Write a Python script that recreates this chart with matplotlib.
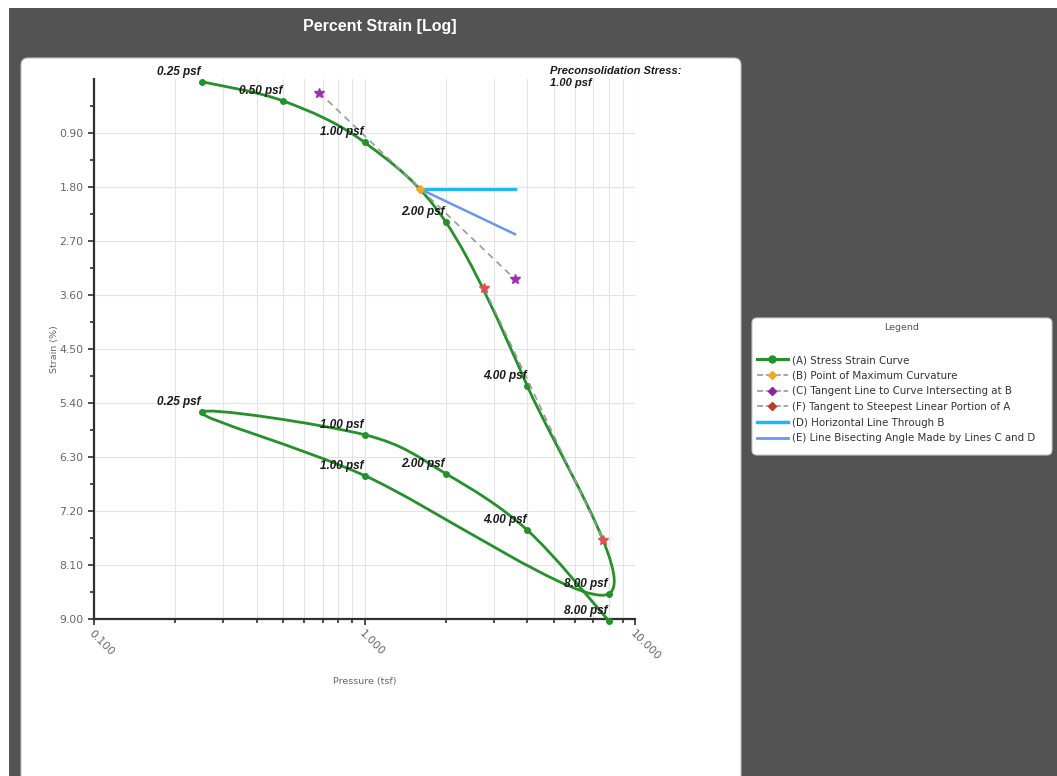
import numpy as np
import matplotlib.pyplot as plt
from matplotlib.patches import FancyBboxPatch, PathPatch, Rectangle
from matplotlib.path import Path
from matplotlib.lines import Line2D
from matplotlib.ticker import FixedLocator, LogLocator, NullFormatter

# (A) stress strain curve : loading -> unloading -> reloading
pressure = [0.25, 0.5, 1.0, 2.0, 4.0, 8.0, 1.0, 0.25, 1.0, 2.0, 4.0, 8.0]
strain = [0.05, 0.37, 1.06, 2.39, 5.12, 8.58, 6.61, 5.56, 5.93, 6.58, 7.52, 9.03]
point_labels = ['0.25 psf', '0.50 psf', '1.00 psf', '2.00 psf', '4.00 psf', '8.00 psf',
                '1.00 psf', '0.25 psf', '1.00 psf', '2.00 psf', '4.00 psf', '8.00 psf']

# (B) point of maximum curvature
b_pressure = [1.61]
b_strain = [1.84]
# (C) tangent line through B
c_pressure = [0.68, 3.6]
c_strain = [0.23, 3.34]
# (F) tangent to steepest linear portion
f_pressure = [2.77, 7.64]
f_strain = [3.49, 7.69]
# (D) horizontal line through B
d_pressure = [1.61, 3.6]
d_strain = [1.84, 1.84]
# (E) bisector of C and D
e_pressure = [1.61, 3.6]
e_strain = [1.84, 2.59]

y_ticks = [0.90, 1.80, 2.70, 3.60, 4.50, 5.40, 6.30, 7.20, 8.10, 9.00]
x_ticks = [0.1, 1.0, 10.0]

legend_labels = ['(A) Stress Strain Curve',
                 '(B) Point of Maximum Curvature',
                 '(C) Tangent Line to Curve Intersecting at B',
                 '(F) Tangent to Steepest Linear Portion of A',
                 '(D) Horizontal Line Through B',
                 '(E) Line Bisecting Angle Made by Lines C and D']

GREEN = '#24912a'
GRAY_DASH = '#9a9a9a'


def smooth_path(px, py):
    # catmull-rom curve through the points, drawn as bezier segments (log x)
    pts = np.column_stack([np.log10(px), py])
    n = len(pts)
    verts = [pts[0]]
    codes = [Path.MOVETO]
    for i in range(n - 1):
        p0 = pts[max(i - 1, 0)]
        p1, p2 = pts[i], pts[i + 1]
        p3 = pts[min(i + 2, n - 1)]
        verts += [p1 + (p2 - p0) / 6, p2 - (p3 - p1) / 6, p2]
        codes += [Path.CURVE4] * 3
    verts = np.array(verts)
    verts[:, 0] = 10 ** verts[:, 0]
    return Path(verts, codes)


W, H = 1057, 776
fig = plt.figure(figsize=(W / 100, H / 100), dpi=100)
fig.patch.set_facecolor('white')

# dark background + white chart panel
fig.add_artist(Rectangle((9 / W, 0), 1, 1 - 8 / H, transform=fig.transFigure,
                         facecolor='#535353', edgecolor='none', zorder=-3))
fig.add_artist(FancyBboxPatch((0.21, -0.2), 7.20, (H - 58) / 100 + 0.2,
                              boxstyle='round,pad=0,rounding_size=0.07',
                              transform=fig.dpi_scale_trans,
                              facecolor='white', edgecolor='#bdbdbd', lw=0.8, zorder=-2))
# legend panel
fig.add_artist(FancyBboxPatch((7.52, (H - 455) / 100), 3.00, 1.37,
                              boxstyle='round,pad=0,rounding_size=0.05',
                              transform=fig.dpi_scale_trans,
                              facecolor='white', edgecolor='#c8c8c8', lw=0.8, zorder=-2))

fig.text(380 / W, 1 - 27 / H, 'Percent Strain [Log]', color='white', fontsize=11.5,
         fontweight='bold', ha='center', va='center', family='Liberation Sans')

ax = fig.add_axes([94 / W, 1 - 619 / H, 541 / W, 540.3 / H])
ax.set_facecolor('none')
ax.set_xscale('log')
ax.set_xlim(0.1, 10)
ax.set_ylim(9.0, 0)

ax.xaxis.set_major_locator(FixedLocator(x_ticks))
ax.xaxis.set_minor_locator(LogLocator(base=10, subs=np.arange(2, 10)))
ax.xaxis.set_minor_formatter(NullFormatter())
ax.set_xticklabels(['%.3f' % t for t in x_ticks], rotation=-45, ha='left', va='top',
                   rotation_mode='anchor')
ax.set_yticks(y_ticks)
ax.set_yticklabels(['%.2f' % t for t in y_ticks])
ax.yaxis.set_minor_locator(FixedLocator([t - 0.45 for t in y_ticks]))

ax.tick_params(which='both', direction='out', color='#303030', width=1.2,
               labelsize=7.8, labelcolor='#666666')
ax.tick_params(which='major', length=4)
ax.tick_params(which='minor', length=3)
ax.tick_params(axis='x', pad=3)

ax.grid(which='both', axis='x', color='#e4e4e4', lw=0.8)
ax.grid(which='major', axis='y', color='#e4e4e4', lw=0.8)
for s in ['top', 'right']:
    ax.spines[s].set_visible(False)
for s in ['left', 'bottom']:
    ax.spines[s].set_color('#303030')
    ax.spines[s].set_linewidth(1.6)

ax.set_xlabel('Pressure (tsf)', fontsize=6.8, color='#666666', labelpad=10)
ax.set_ylabel('Strain (%)', fontsize=6.8, color='#666666', labelpad=0)

# (A) curve
ax.add_patch(PathPatch(smooth_path(pressure, strain), facecolor='none', edgecolor=GREEN,
                       lw=2.0, zorder=3, clip_on=False))
ax.plot(pressure, strain, 'o', color=GREEN, ms=4, zorder=4, clip_on=False)
for p, s, lab in zip(pressure, strain, point_labels):
    ax.annotate(lab, (p, s), xytext=(-1, 4), textcoords='offset pixels',
                ha='right', va='bottom', fontsize=8.5, fontweight='bold',
                fontstyle='italic', family='Liberation Sans', color='#1a1a1a', zorder=6,
                annotation_clip=False)

# (C) and (F) tangents
ax.plot(c_pressure, c_strain, '--', color=GRAY_DASH, lw=1.2, dashes=(4, 3), zorder=5)
ax.plot(c_pressure, c_strain, '*', color='#9b30b5', ms=7, zorder=5)
ax.plot(f_pressure, f_strain, '--', color=GRAY_DASH, lw=1.2, dashes=(4, 3), zorder=5)
ax.plot(f_pressure, f_strain, '*', color='#e05050', ms=7, zorder=5)
# (D) and (E)
ax.plot(d_pressure, d_strain, color='#1eb9f2', lw=2.2, zorder=5)
ax.plot(e_pressure, e_strain, color='#6a96ee', lw=1.8, zorder=5)
# (B)
ax.plot(b_pressure, b_strain, 'D', color='#f5a623', ms=4, zorder=6)

fig.text(550 / W, 1 - 66 / H, 'Preconsolidation Stress:\n1.00 psf', fontsize=8,
         fontweight='bold', fontstyle='italic', family='Liberation Sans',
         color='#1a1a1a', ha='left', va='top', linespacing=1.3)

# legend
handles = [
    Line2D([], [], color=GREEN, lw=2.2, marker='o', ms=5),
    Line2D([], [], color=GRAY_DASH, lw=1.2, ls='--', marker='D', ms=4, mfc='#f5a623', mec='#f5a623'),
    Line2D([], [], color=GRAY_DASH, lw=1.2, ls='--', marker='D', ms=4, mfc='#8e1fa8', mec='#8e1fa8'),
    Line2D([], [], color=GRAY_DASH, lw=1.2, ls='--', marker='D', ms=4, mfc='#c0392b', mec='#c0392b'),
    Line2D([], [], color='#1eb9f2', lw=2.5),
    Line2D([], [], color='#6a96ee', lw=2.0),
]
fig.text(902 / W, 1 - 327 / H, 'Legend', ha='center', va='center', fontsize=6.8,
         color='#555555')
fig.legend(handles, legend_labels, loc='upper left', bbox_to_anchor=(755 / W, 1 - 353 / H),
           frameon=False, fontsize=7.4, handlelength=3.0, handletextpad=0.4,
           labelspacing=0.55, borderaxespad=0, borderpad=0.2, labelcolor='#333333')

fig.savefig('out.png', dpi=100, facecolor=fig.get_facecolor())
